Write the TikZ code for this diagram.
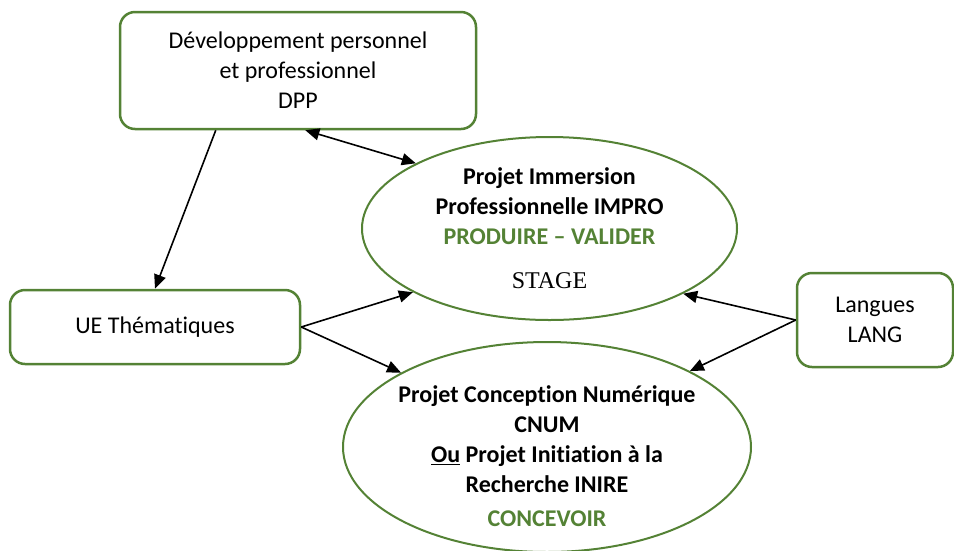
\documentclass[tikz,border=0pt]{standalone}
\usepackage{fontspec}
\setmainfont{Carlito}[Ligatures={CommonOff,ContextualOff}]
\newfontfamily\timesfont{Liberation Serif}
\usetikzlibrary{arrows.meta,shapes.geometric}
\definecolor{vert}{RGB}{84,130,53}

\begin{document}
\begin{tikzpicture}
  [x=1pt,y=-1pt,
   every node/.style={font=\fontsize{24}{30}\selectfont,align=center},
   texte gras/.style={font=\fontsize{24}{30}\selectfont\bfseries},
   boite/.style={draw=vert,line width=2.5pt,rounded corners=15pt},
   bulle/.style={ellipse,draw=vert,line width=2pt},
   fleche/.style={-{Triangle[length=14pt,width=12pt]},line width=1.6pt}]
  \useasboundingbox (0,0) rectangle (954,550);
  \node[boite,minimum width=356,minimum height=117] (dpp) at (298,70.5) {Développement personnel\\et professionnel\\DPP};
  \node[boite,minimum width=290,minimum height=74] (ue) at (155,327) {UE Thématiques};
  \node[boite,minimum width=156,minimum height=94] (lang) at (875,320) {Langues\\LANG};
  \node[bulle,minimum width=375,minimum height=183,
    label={[texte gras]center:{Projet Immersion\\Professionnelle IMPRO\\\textcolor{vert}{PRODUIRE – VALIDER}\\[14pt]{\mdseries\timesfont STAGE}}}]
    (impro) at (549.5,228.5) {};
  \node[bulle,minimum width=408,minimum height=210,
    label={[texte gras,yshift=-9pt]center:{Projet Conception Numérique\\CNUM\\\underline{Ou} Projet Initiation à la\\Recherche INIRE\\[4pt]\textcolor{vert}{CONCEVOIR}}}]
    (cnum) at (547,447) {};

  \draw[{Triangle[length=14pt,width=12pt]}-{Triangle[length=14pt,width=12pt]},line width=1.6pt] (dpp.277) -- (impro.154);
  \foreach \from/\to in {dpp.216/ue.north,ue.east/impro.205,ue.east/cnum.153,
    lang.west/impro.334,lang.west/cnum.28}
    \draw[fleche] (\from) -- (\to);
\end{tikzpicture}
\end{document}
